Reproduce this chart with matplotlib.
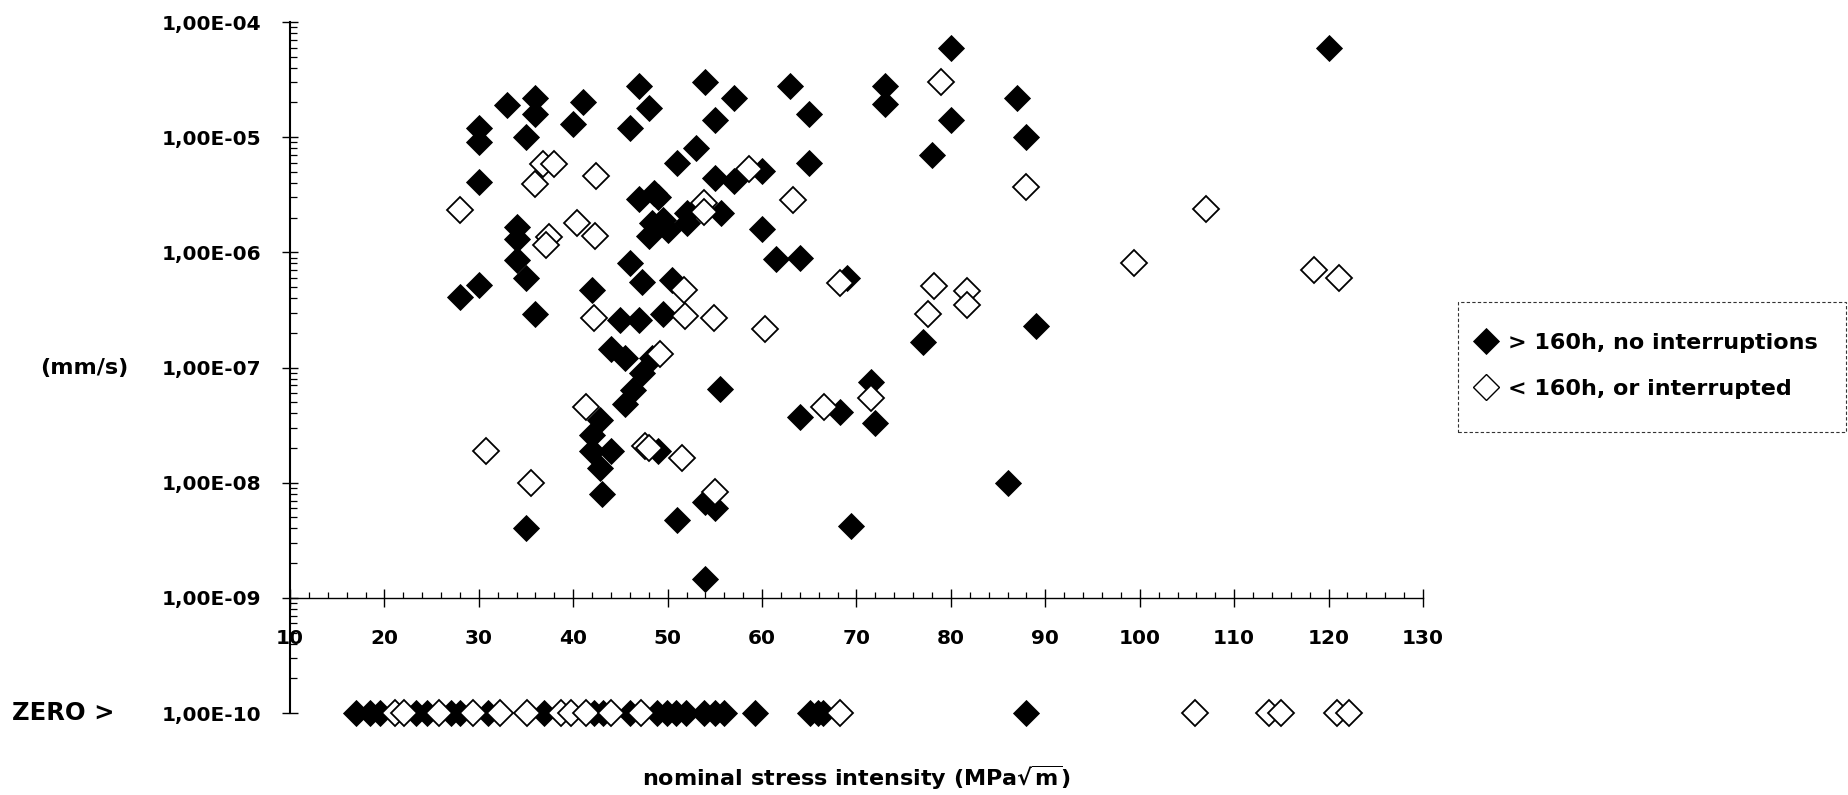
import matplotlib
matplotlib.use('Agg')
import matplotlib.pyplot as plt
import matplotlib.ticker as mticker
import matplotlib.transforms as mtransforms
from matplotlib.patches import Rectangle
from matplotlib.lines import Line2D

plt.rcParams['font.family'] = ['DejaVu Sans']
plt.rcParams['font.weight'] = 'bold'
plt.rcParams['mathtext.fontset'] = 'dejavusans'

# ---------------- data ----------------
filled_x = [33, 36, 36, 41, 40, 30, 30, 35, 30, 34, 34, 34, 35, 30, 28, 42, 36, 45, 46,
            44, 45.5, 45.5, 42.8, 42, 42, 44, 42.8, 43, 35,
            47, 48, 46, 54, 57, 55, 63, 65, 73, 73, 53, 51, 65, 55, 57, 60,
            47, 48.5, 49, 48.3, 48, 50, 52, 52, 55.7, 49.5, 60, 61.5, 64,
            47.3, 50.5, 69, 49.5, 47, 47.3, 48.3, 46.3, 55.5, 64, 68.3, 71.5, 72,
            49, 54, 55, 51, 69.4, 54, 77, 80, 120, 87, 80, 88, 78, 89, 86]
filled_y = [1.9e-5, 2.2e-5, 1.6e-5, 2.0e-5, 1.3e-5, 1.2e-5, 9.0e-6, 1.0e-5, 4.1e-6,
            1.65e-6, 1.3e-6, 8.5e-7, 6.0e-7, 5.2e-7, 4.1e-7, 4.7e-7, 2.9e-7, 2.6e-7, 8.0e-7,
            1.45e-7, 1.2e-7, 4.8e-8, 3.5e-8, 2.6e-8, 1.9e-8, 1.9e-8, 1.35e-8, 8.0e-9, 4.0e-9,
            2.8e-5, 1.8e-5, 1.2e-5, 3.0e-5, 2.2e-5, 1.4e-5, 2.8e-5, 1.6e-5, 2.8e-5, 1.95e-5,
            8.0e-6, 6.0e-6, 6.0e-6, 4.4e-6, 4.2e-6, 5.1e-6,
            2.9e-6, 3.3e-6, 3.0e-6, 1.8e-6, 1.4e-6, 1.55e-6, 2.2e-6, 1.8e-6, 2.2e-6, 1.9e-6,
            1.6e-6, 8.8e-7, 9.0e-7,
            5.5e-7, 5.8e-7, 6.0e-7, 2.9e-7, 2.6e-7, 9.0e-8, 1.2e-7, 6.4e-8, 6.5e-8, 3.7e-8,
            4.1e-8, 7.5e-8, 3.3e-8,
            1.9e-8, 6.8e-9, 6.0e-9, 4.7e-9, 4.2e-9, 1.45e-9, 1.65e-7, 6.0e-5, 6.0e-5, 2.2e-5,
            1.4e-5, 1.0e-5, 7.0e-6, 2.3e-7, 1.0e-8]

open_x = [28, 36.8, 38, 36, 42.4, 40.4, 42.3, 37.4, 37.1, 42.2, 41.4, 30.8, 35.5,
          58.6, 63.3, 53.9, 53.9, 51.7, 68.3, 51.8, 54.9, 60.3, 49.2, 47.6, 48, 51.5, 55,
          66.6, 71.5, 79, 88, 107, 99.4, 118.5, 121.1, 78.2, 81.7, 77.6, 81.7]
open_y = [2.35e-6, 5.8e-6, 5.9e-6, 3.9e-6, 4.6e-6, 1.8e-6, 1.4e-6, 1.35e-6, 1.15e-6,
          2.7e-7, 4.5e-8, 1.9e-8, 1.0e-8,
          5.3e-6, 2.85e-6, 2.7e-6, 2.25e-6, 4.7e-7, 5.4e-7, 2.8e-7, 2.7e-7, 2.15e-7, 1.3e-7,
          2.1e-8, 2.0e-8, 1.65e-8, 8.3e-9,
          4.5e-8, 5.4e-8, 3.0e-5, 3.7e-6, 2.4e-6, 8.0e-7, 7.0e-7, 6.0e-7, 5.1e-7, 4.6e-7,
          2.9e-7, 3.5e-7]

# tests with zero crack growth, plotted on the "ZERO" line
zero_value = 1e-10
zero_filled_x = [17.0, 18.5, 19.5, 23.3, 24.5, 27.0, 28.0, 31.0, 36.9, 42.2, 43.2, 46.0,
                 48.9, 49.9, 50.9, 51.9, 53.9, 55.0, 56.0, 59.2, 65.1, 65.9, 66.5, 88.0]
zero_open_x = [21.1, 22.1, 25.8, 29.4, 32.2, 35.1, 38.7, 39.8, 41.4, 44.0, 47.2, 68.3,
               105.8, 113.7, 115.0, 120.9, 122.2]

x_ticks = [10, 20, 30, 40, 50, 60, 70, 80, 90, 100, 110, 120, 130]
y_ticks = [1e-10, 1e-9, 1e-8, 1e-7, 1e-6, 1e-5, 1e-4]
y_tick_labels = ['1,00E-10', '1,00E-09', '1,00E-08', '1,00E-07', '1,00E-06',
                 '1,00E-05', '1,00E-04']
legend_labels = ['> 160h, no interruptions', '< 160h, or interrupted']
x_label = r'nominal stress intensity (MPa$\sqrt{\mathbf{m}}$)'
y_unit = '(mm/s)'
zero_label = 'ZERO >'

# ---------------- figure ----------------
W, H = 1849, 795
fig = plt.figure(figsize=(W / 100, H / 100), dpi=100)
left, right = 290 / W, 1423 / W
bottom, top = 1 - 713 / H, 1 - 22 / H
ax = fig.add_axes([left, bottom, right - left, top - bottom])
ax.set_yscale('log')
ax.set_xlim(10, 130)
ax.set_ylim(1e-10, 1e-4)

ms = 13.5
fill_kw = dict(linestyle='none', marker='D', markersize=ms, markerfacecolor='black',
               markeredgecolor='black', markeredgewidth=0.6, clip_on=False, zorder=3)
open_kw = dict(linestyle='none', marker='D', markersize=ms, markerfacecolor='white',
               markeredgecolor='black', markeredgewidth=1.3, clip_on=False, zorder=4)

ax.plot(filled_x, filled_y, **fill_kw)
ax.plot(zero_filled_x, [zero_value] * len(zero_filled_x), **fill_kw)
ax.plot(open_x, open_y, **open_kw)
ax.plot(zero_open_x, [zero_value] * len(zero_open_x), **open_kw)

# spines
ax.spines['top'].set_visible(False)
ax.spines['right'].set_visible(False)
ax.spines['bottom'].set_position(('data', 1e-9))
ax.spines['left'].set_linewidth(1.5)
ax.spines['bottom'].set_linewidth(1.0)

# ticks
ax.set_xticks(x_ticks)
ax.set_xticklabels([str(v) for v in x_ticks])
ax.xaxis.set_minor_locator(mticker.MultipleLocator(2))
ax.set_yticks(y_ticks)
ax.set_yticklabels(y_tick_labels)
ax.yaxis.set_minor_locator(mticker.LogLocator(base=10, subs=[2, 3, 4, 5, 6, 7, 8, 9], numticks=20))
ax.yaxis.set_minor_formatter(mticker.NullFormatter())

ax.tick_params(axis='x', which='major', direction='inout', length=13, width=1.0,
               pad=16, labelsize=14.5)
ax.tick_params(axis='x', which='minor', direction='in', length=4.5, width=0.9)
ax.tick_params(axis='y', which='major', direction='inout', length=12, width=1.0,
               pad=15, labelsize=14.5)
ax.tick_params(axis='y', which='minor', direction='in', length=5, width=0.9)
for lab in ax.get_xticklabels() + ax.get_yticklabels():
    lab.set_fontweight('bold')

# side texts
blend = mtransforms.blended_transform_factory(fig.transFigure, ax.transData)
fig.text(128 / W, 1e-7, y_unit, transform=blend, ha='right', va='center',
         fontsize=16, fontweight='bold')
fig.text(12 / W, zero_value, zero_label, transform=blend, ha='left', va='center',
         fontsize=17.5, fontweight='bold')
fig.text(0.5 * (left + right), 1 - 778 / H, x_label, ha='center', va='center',
         fontsize=16, fontweight='bold')

# legend
handles = [Line2D([], [], linestyle='none', marker='D', markersize=ms,
                  markerfacecolor='black', markeredgecolor='black', markeredgewidth=0.6),
           Line2D([], [], linestyle='none', marker='D', markersize=ms,
                  markerfacecolor='white', markeredgecolor='black', markeredgewidth=1.0)]
leg = fig.legend(handles, legend_labels, loc='center left',
                 bbox_to_anchor=(1472 / W, 1 - 366 / H), frameon=False,
                 prop={'size': 16, 'weight': 'bold'}, handlelength=1.3,
                 handletextpad=0.3, labelspacing=1.15, borderpad=0, borderaxespad=0)
fig.add_artist(Rectangle((1458 / W, 1 - 432 / H), (1846 - 1458) / W, 130 / H,
                         transform=fig.transFigure, fill=False, linestyle=(0, (3, 2)),
                         linewidth=0.8, edgecolor='#333333'))

fig.savefig('out.png', dpi=100)
